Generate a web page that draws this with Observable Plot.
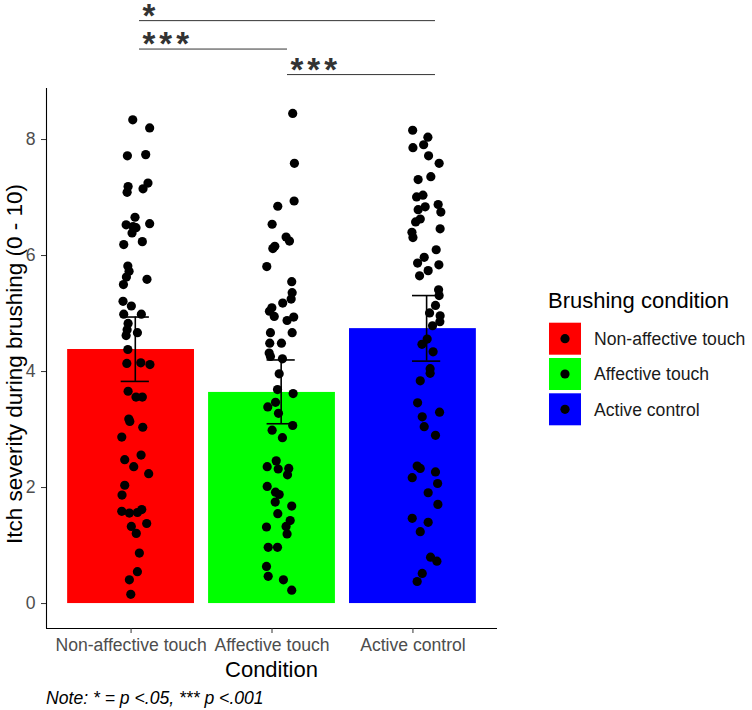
<!DOCTYPE html>
<html>
<head>
<meta charset="utf-8">
<script src="https://cdn.jsdelivr.net/npm/d3@7"></script>
<script src="https://cdn.jsdelivr.net/npm/@observablehq/plot@0.6"></script>
<style>
  html, body { margin: 0; padding: 0; background: #fff; }
</style>
</head>
<body>
<div id="chart"></div>
<script>
const FONT = '"Liberation Sans", Arial, Helvetica, sans-serif';

// Categories and colours
const categories = ["Non-affective touch", "Affective touch", "Active control"];
const barColors = ["#FF0000", "#00FF00", "#0000FF"];

// Summary values (bar = mean, error bar = lower/upper)
const means = [4.38, 3.64, 4.74];
const errLow = [3.83, 3.10, 4.18];
const errHigh = [4.94, 4.20, 5.31];
const errOffset = [0.03, 0.065, 0.097];

// Individual ratings and their horizontal jitter (category units)
const nonAffectiveVals = [8.34,8.20,7.72,7.74,7.19,7.09,7.15,7.25,6.66,6.53,6.50,6.39,6.48,6.55,6.19,6.24,5.82,5.73,5.63,5.50,5.59,5.21,5.13,4.99,4.99,4.83,4.72,4.62,4.67,4.38,4.14,4.15,4.12,3.66,3.56,3.56,3.18,3.14,3.04,2.87,2.48,2.56,2.36,2.24,2.04,1.87,1.59,1.56,1.57,1.62,1.38,1.33,1.21,0.87,0.55,0.41,0.16];
const nonAffectiveJitter = [0.012,0.132,-0.026,0.104,-0.021,-0.028,0.085,0.120,0.028,-0.035,0.014,0.007,0.035,0.132,-0.052,0.080,-0.023,-0.014,-0.033,-0.054,0.113,-0.057,0.002,-0.052,0.073,-0.021,-0.028,-0.035,0.045,-0.023,-0.030,0.069,0.134,-0.021,0.035,0.080,-0.016,-0.009,0.083,-0.066,-0.045,0.071,0.019,0.125,-0.045,-0.064,-0.066,-0.012,0.045,0.076,0.111,0.002,0.037,0.059,0.045,-0.012,-0.002];

const affectiveVals = [8.45,7.59,6.94,6.85,6.54,6.32,6.25,6.12,6.16,5.81,5.55,5.36,5.25,5.18,5.10,5.04,4.95,4.88,4.94,4.67,4.67,4.49,4.49,4.32,4.26,4.22,3.96,3.69,3.62,3.47,3.39,3.28,3.07,2.99,2.86,2.46,2.32,2.36,2.33,2.22,2.02,1.92,1.88,1.75,1.68,1.55,1.43,1.33,1.20,1.32,0.97,0.97,0.64,0.47,0.41,0.23];
const affectiveJitter = [0.147,0.159,0.157,0.041,0.001,0.100,0.124,0.006,0.020,-0.037,0.140,0.143,0.136,0.076,-0.001,-0.018,0.016,0.107,0.154,-0.011,0.143,-0.016,0.067,-0.020,-0.011,0.074,0.051,0.039,0.150,0.025,-0.030,0.046,0.147,0.001,0.074,0.030,0.044,-0.034,0.119,0.110,-0.034,0.025,0.051,0.023,0.140,0.041,0.129,0.100,0.107,-0.039,-0.027,0.039,-0.039,-0.027,0.081,0.140];

const activeVals = [8.16,8.04,7.91,7.86,7.72,7.59,7.31,7.36,7.01,7.04,6.84,6.79,6.63,6.58,6.88,6.75,6.40,6.31,6.46,6.10,5.97,5.87,5.84,5.74,5.65,5.41,5.31,5.14,5.01,4.96,4.86,4.79,4.56,4.47,4.34,4.05,3.97,3.84,3.46,3.30,3.22,3.05,2.90,2.37,2.33,2.27,2.17,2.07,1.91,1.71,1.47,1.40,1.24,0.80,0.73,0.52,0.38];
const activeJitter = [-0.002,0.106,0.076,0.000,0.111,0.186,0.037,0.127,0.026,0.071,0.087,0.037,0.052,0.019,0.179,0.198,-0.007,0.000,0.193,0.165,0.080,0.033,0.184,0.108,0.047,0.182,0.186,0.160,0.118,0.193,0.191,0.139,0.101,0.064,0.143,0.122,0.122,0.052,0.033,0.189,0.066,0.080,0.160,0.030,0.052,0.160,-0.005,0.175,0.108,0.177,-0.005,0.108,0.052,0.125,0.170,0.066,0.030];

// Significance annotations
const sigX1 = [0.06, 0.06, 1.11];
const sigX2 = [2.16, 1.11, 2.16];
const sigY = [10.05, 9.56, 9.12];
const sigLabel = ["*", "***", "***"];

// Axis ticks
const yTicks = [0, 2, 4, 6, 8];
const xDomain = [-0.6, 2.6];
const yDomain = [-0.43, 8.88];

// Build tables
const bars = categories.map((c, i) => ({cond: c, i, mean: means[i], lo: errLow[i], hi: errHigh[i], off: errOffset[i]}));
const groupVals = [nonAffectiveVals, affectiveVals, activeVals];
const groupJit = [nonAffectiveJitter, affectiveJitter, activeJitter];
const points = [];
groupVals.forEach((vals, g) => vals.forEach((v, j) => points.push({x: g + groupJit[g][j], y: v})));
const sig = sigLabel.map((l, k) => ({x1: sigX1[k], x2: sigX2[k], y: sigY[k], label: l}));

const svg = Plot.plot({
  width: 752,
  height: 710,
  marginLeft: 46,
  marginRight: 255,
  marginTop: 88,
  marginBottom: 82,
  style: {fontFamily: FONT, background: "white", overflow: "visible"},
  x: {type: "linear", domain: xDomain, axis: null},
  y: {domain: yDomain, axis: null},
  color: {domain: categories, range: barColors},
  marks: [
    Plot.rectY(bars, {x1: d => d.i - 0.45, x2: d => d.i + 0.45, y1: 0, y2: "mean", fill: "cond", inset: 0}),
    Plot.dot(points, {x: "x", y: "y", r: 4.6, fill: "black", stroke: null}),
    Plot.ruleX(bars, {x: d => d.i + d.off, y1: "lo", y2: "hi", stroke: "black", strokeWidth: 1.6}),
    Plot.ruleY(bars, {x1: d => d.i + d.off - 0.1, x2: d => d.i + d.off + 0.1, y: "hi", stroke: "black", strokeWidth: 1.6}),
    Plot.ruleY(bars, {x1: d => d.i + d.off - 0.1, x2: d => d.i + d.off + 0.1, y: "lo", stroke: "black", strokeWidth: 1.6}),
    Plot.ruleX([xDomain[0]], {stroke: "black", strokeWidth: 1.1}),
    Plot.ruleY([yDomain[0]], {stroke: "black", strokeWidth: 1.1}),
    Plot.axisX({ticks: [0, 1, 2], tickFormat: i => categories[i], tickSize: 5, tickPadding: 5,
      fontSize: 17.6, fill: "#4D4D4D", stroke: "#333333", label: null}),
    Plot.axisY({ticks: yTicks, tickSize: 5, tickPadding: 6, fontSize: 17.6,
      fill: "#4D4D4D", stroke: "#333333", label: null}),
    Plot.ruleY(sig, {x1: "x1", x2: "x2", y: "y", stroke: "#333333", strokeWidth: 1}),
    Plot.text(sig, {x: "x1", y: "y", text: "label", textAnchor: "start", lineAnchor: "bottom",
      dx: 3, dy: 6, fontSize: 33, fontWeight: "bold", fill: "#333333", fontFamily: FONT,
      className: "sigstars"})
  ]
});

const s = d3.select(svg);
// widen the spacing between the asterisks
s.selectAll(".sigstars text").style("letter-spacing", "4px");

function addText(attrs, str) {
  const t = s.append("text").attr("text-anchor", "start").attr("font-family", FONT).attr("fill", "black");
  for (const k in attrs) t.attr(k, attrs[k]);
  t.text(str);
  return t;
}
// Axis titles
addText({transform: "translate(21.5,364) rotate(-90)", "text-anchor": "middle", "font-size": 22.5},
  "Itch severity during brushing (0 - 10)");
addText({x: 271.5, y: 676.5, "text-anchor": "middle", "font-size": 22}, "Condition");
addText({x: 46, y: 704, "font-size": 17.6, "font-style": "italic"}, "Note: * = p <.05, *** p <.001");

// Legend
addText({x: 548, y: 308, "font-size": 22}, "Brushing condition");
categories.forEach((c, k) => {
  const top = 322.7 + k * 35.3;
  s.append("rect").attr("x", 549).attr("y", top).attr("width", 32).attr("height", 32).attr("fill", barColors[k]);
  s.append("circle").attr("cx", 565).attr("cy", top + 16).attr("r", 4.6).attr("fill", "black");
  addText({x: 594, y: top + 22.3, "font-size": 17.6, fill: "#1A1A1A"}, c);
});

document.getElementById("chart").appendChild(svg);
</script>
</body>
</html>
